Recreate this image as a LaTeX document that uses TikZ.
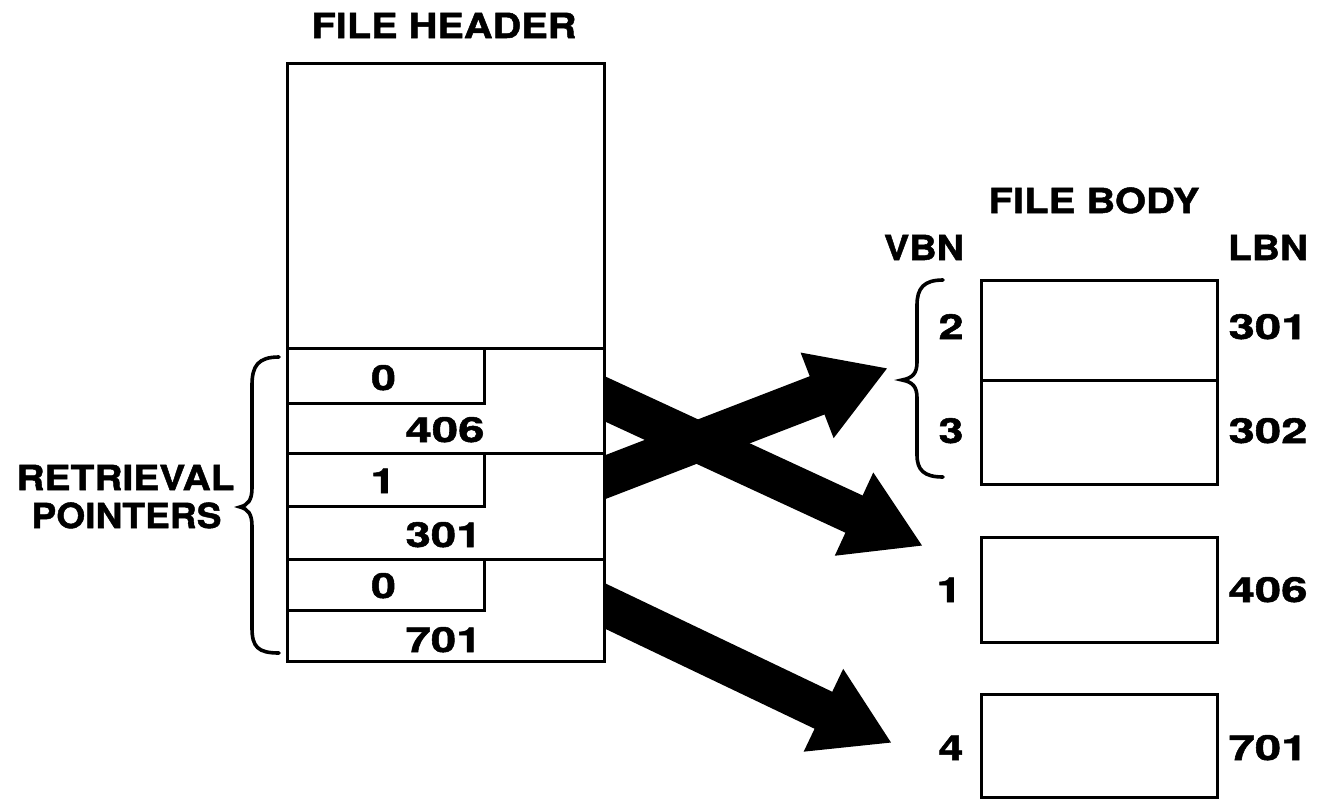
\documentclass[tikz,border=0pt]{standalone}
\usepackage{fontspec}
\setmainfont{TeX Gyre Heros}[FakeStretch=1.3,FakeBold=1.5]
\usepackage{graphicx}
\usetikzlibrary{arrows.meta}
\newcommand\wtxt[2]{\resizebox{#1pt}{\height}{#2}}
\begin{document}
\begin{tikzpicture}[x=1pt,y=-1pt, line width=2.8pt,
  lbl/.style={anchor=base, inner sep=0pt, font=\fontsize{34.5}{34.5}\selectfont\bfseries},
  box/.style={draw, fill=white, anchor=north west, inner sep=0pt},
  cell/.style={draw, anchor=north west, inner sep=0pt},
  bigarrow/.style={line width=41pt, -{Triangle[length=76pt,width=86pt]}, shorten <=-30pt},
  bracepath/.style={line width=3.6pt, line cap=round}]
\useasboundingbox (0,0) rectangle (1327,798);

% arrow coordinates (free ends)
\coordinate (sA) at (603,398);
\coordinate (tA) at (923,546);
\coordinate (sB) at (603,478);
\coordinate (tB) at (888,368);
\coordinate (sC) at (603,605);
\coordinate (tC) at (892,743);

% arrows (drawn first, header box covers their tails)
\draw[bigarrow] (sA) -- (tA);
\draw[bigarrow] (sB) -- (tB);
\draw[bigarrow] (sC) -- (tC);

% file header
\node[lbl] (fh) at (444,38) {\wtxt{265}{FILE HEADER}};
\node[box, minimum width=317pt, minimum height=598pt] (hdr) at (286,62) {};
\node[cell, minimum width=317pt, minimum height=105pt] (row1) at (286,347) {};
\node[cell, minimum width=317pt, minimum height=106pt] (row2) at (286,452) {};
\node[cell, minimum width=317pt, minimum height=102pt] (row3) at (286,558) {};
\node[cell, minimum width=197pt, minimum height=55pt] (p1) at (286,347) {};
\node[cell, minimum width=197pt, minimum height=53pt] (p2) at (286,452) {};
\node[cell, minimum width=197pt, minimum height=51pt] (p3) at (286,558) {};

\node[lbl] (n0a) at (383.5,390) {0};
\node[lbl] (n406) at (445,442) {\wtxt{79}{406}};
\node[lbl] (n1) at (383,493) {1};
\node[lbl] (n301) at (443.5,547) {\wtxt{76}{301}};
\node[lbl] (n0b) at (383.5,598) {0};
\node[lbl] (n701) at (443.5,652) {\wtxt{76}{701}};

% retrieval pointers brace + label
\node[lbl] (rt1) at (125.5,490) {\wtxt{218}{RETRIEVAL}};
\node[lbl] (rt2) at (126.5,528) {\wtxt{190}{POINTERS}};
\draw[bracepath] (279,357) .. controls (258,357) and (252,366) .. (252,385)
  -- (252,488) .. controls (252,500) and (248,505) .. (240,507)
  .. controls (248,509) and (252,514) .. (252,526)
  -- (252,628) .. controls (252,647) and (258,653) .. (279,653);

% file body
\node[lbl] (fb) at (1094,213) {\wtxt{211}{FILE BODY}};
\node[lbl] (vbn) at (924,260) {\wtxt{80}{VBN}};
\node[lbl] (lbn) at (1268,260) {\wtxt{80}{LBN}};

\node[box, minimum width=236pt, minimum height=100pt] (b2) at (980,279) {};
\node[box, minimum width=236pt, minimum height=104pt] (b3) at (980,379) {};
\node[box, minimum width=236pt, minimum height=105pt] (b1) at (980,536) {};
\node[box, minimum width=236pt, minimum height=103pt] (b4) at (980,693) {};

\draw[bracepath] (943,280) .. controls (924,280) and (917,288) .. (917,305)
  -- (917,362) .. controls (917,373) and (913,378) .. (902,380)
  .. controls (913,382) and (917,387) .. (917,398)
  -- (917,455) .. controls (917,470) and (924,477) .. (943,477);

\node[lbl] (v2) at (951,339) {2};
\node[lbl] (v3) at (951,443) {3};
\node[lbl] (v1) at (949,602) {1};
\node[lbl] (v4) at (951,760) {4};
\node[lbl] (l301) at (1268,339) {\wtxt{79}{301}};
\node[lbl] (l302) at (1268,443) {\wtxt{79}{302}};
\node[lbl] (l406) at (1268,602) {\wtxt{79}{406}};
\node[lbl] (l701) at (1268,760) {\wtxt{79}{701}};
\end{tikzpicture}
\end{document}
